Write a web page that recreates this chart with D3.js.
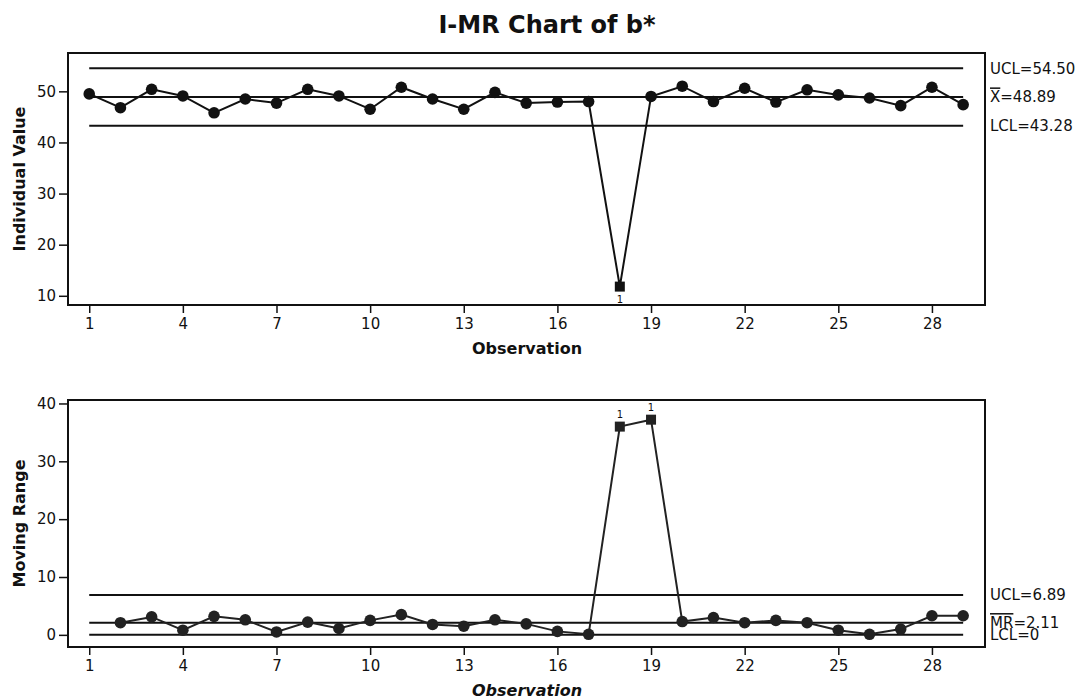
<!DOCTYPE html>
<html>
<head>
<meta charset="utf-8">
<script src="https://cdn.jsdelivr.net/npm/d3@7"></script>
<style>
  body { margin: 0; background: #fff; }
  text { font-family: "DejaVu Sans", Verdana, sans-serif; fill: #111; }
</style>
</head>
<body>
<svg id="chart" width="1092" height="700"></svg>
<script>
// observation numbers
var observations = [1, 2, 3, 4, 5, 6, 7, 8, 9, 10, 11, 12, 13, 14, 15, 16, 17, 18, 19, 20, 21, 22, 23, 24, 25, 26, 27, 28, 29];

// individual values of b*
var individual = [49.5, 46.8, 50.4, 49.1, 45.8, 48.5, 47.7, 50.4, 49.1, 46.5, 50.8, 48.5, 46.5, 49.8, 47.7, 47.9,
  48.0, 11.8, 49.0, 51.0, 48.0, 50.6, 47.9, 50.3, 49.3, 48.7, 47.2, 50.8, 47.4];

// moving ranges (first observation has none)
var movingRange = [null, 2.1, 3.1, 0.8, 3.2, 2.6, 0.5, 2.2, 1.1, 2.5, 3.5, 1.8, 1.5, 2.6, 1.9, 0.6,
  0.1, 36.0, 37.2, 2.3, 3.0, 2.1, 2.5, 2.1, 0.8, 0.1, 1.0, 3.3, 3.3];

// points that failed test 1
var individualFlagged = [18];
var movingRangeFlagged = [18, 19];

// control limits
var individualLimits = [54.50, 48.89, 43.28];
var individualLimitLabels = ["UCL=54.50", "X=48.89", "LCL=43.28"];
var movingRangeLimits = [6.89, 2.11, 0];
var movingRangeLimitLabels = ["UCL=6.89", "MR=2.11", "LCL=0"];

// tick labels
var xTicks = [1, 4, 7, 10, 13, 16, 19, 22, 25, 28];
var individualTicks = [10, 20, 30, 40, 50];
var movingRangeTicks = [0, 10, 20, 30, 40];

var svg = d3.select("#chart");

svg.append("text")
  .attr("x", 547)
  .attr("y", 33)
  .attr("text-anchor", "middle")
  .style("font-size", "24px")
  .style("font-weight", "bold")
  .text("I-MR Chart of b*");

var left = 68, right = 985;

var x = d3.scaleLinear().domain([0.32, 29.7]).range([left, right]);

function drawPanel(p) {
  var y = d3.scaleLinear().domain(p.domain).range([p.bottom, p.top]);
  var g = svg.append("g");

  // x axis
  var xa = g.append("g")
    .attr("transform", "translate(0," + p.bottom + ")")
    .call(d3.axisBottom(x).tickValues(xTicks).tickSize(8).tickSizeOuter(0).tickPadding(5));
  xa.select(".domain").remove();
  xa.selectAll("line").attr("stroke", "#111").attr("stroke-width", 1.5);
  xa.selectAll("text").style("font-size", "15px").style("font-family", "DejaVu Sans").attr("fill", "#111");

  // y axis
  var ya = g.append("g")
    .attr("transform", "translate(" + left + ",0)")
    .call(d3.axisLeft(y).tickValues(p.ticks).tickSize(9).tickSizeOuter(0).tickPadding(3));
  ya.select(".domain").remove();
  ya.selectAll("line").attr("stroke", "#111").attr("stroke-width", 1.5);
  ya.selectAll("text").style("font-size", "15px").style("font-family", "DejaVu Sans").attr("fill", "#111");

  // frame
  g.append("rect")
    .attr("x", left).attr("y", p.top)
    .attr("width", right - left).attr("height", p.bottom - p.top)
    .attr("fill", "none").attr("stroke", "#111").attr("stroke-width", 2);

  // axis titles
  g.append("text")
    .attr("x", 527).attr("y", p.bottom + 49)
    .attr("text-anchor", "middle")
    .style("font-size", "16px").style("font-weight", "bold")
    .style("font-style", p.italic ? "italic" : "normal")
    .text("Observation");

  g.append("text")
    .attr("transform", "translate(25," + ((p.top + p.bottom) / 2) + ") rotate(-90)")
    .attr("text-anchor", "middle")
    .style("font-size", "16px").style("font-weight", "bold")
    .text(p.yTitle);

  // control lines
  g.selectAll(".limit")
    .data(p.limits)
    .enter().append("line")
    .attr("x1", x(1)).attr("x2", x(29))
    .attr("y1", function(d) { return y(d); })
    .attr("y2", function(d) { return y(d); })
    .attr("stroke", "#111").attr("stroke-width", 2);

  var labels = g.selectAll(".lbl")
    .data(p.limits)
    .enter().append("text")
    .attr("x", right + 5)
    .attr("y", function(d) { return y(d); })
    .attr("dy", "0.36em")
    .style("font-size", "15px");
  labels.each(function(d, i) {
    var t = d3.select(this);
    var s = p.labels[i];
    if (i === 1) {
      var eq = s.indexOf("=");
      t.append("tspan").style("text-decoration", "overline").text(s.slice(0, eq));
      t.append("tspan").text(s.slice(eq));
    } else {
      t.text(s);
    }
  });

  // data
  var pts = observations.map(function(o, i) { return { obs: o, v: p.values[i] }; })
    .filter(function(d) { return d.v !== null; });

  var line = d3.line().x(function(d) { return x(d.obs); }).y(function(d) { return y(d.v); });
  g.append("path").datum(pts)
    .attr("d", line)
    .attr("fill", "none").attr("stroke", p.color).attr("stroke-width", 2);

  var normal = pts.filter(function(d) { return p.flagged.indexOf(d.obs) < 0; });
  var flagged = pts.filter(function(d) { return p.flagged.indexOf(d.obs) >= 0; });

  g.selectAll(".dot").data(normal).enter().append("circle")
    .attr("cx", function(d) { return x(d.obs); })
    .attr("cy", function(d) { return y(d.v); })
    .attr("r", 5.8)
    .attr("fill", p.color);

  g.selectAll(".sq").data(flagged).enter().append("rect")
    .attr("x", function(d) { return x(d.obs) - 5; })
    .attr("y", function(d) { return y(d.v) - 5; })
    .attr("width", 10).attr("height", 10)
    .attr("fill", p.color);

  g.selectAll(".flag").data(flagged).enter().append("text")
    .attr("x", function(d) { return x(d.obs); })
    .attr("y", function(d) { return p.flagBelow ? y(d.v) + 16 : y(d.v) - 9; })
    .attr("text-anchor", "middle")
    .style("font-size", "10px")
    .text("1");
}

drawPanel({
  top: 53, bottom: 305, domain: [8.2, 57.5],
  ticks: individualTicks, yTitle: "Individual Value",
  values: individual, flagged: individualFlagged,
  limits: individualLimits, labels: individualLimitLabels,
  color: "#111", flagBelow: true, italic: false
});

drawPanel({
  top: 400, bottom: 647, domain: [-2.1, 40.6],
  ticks: movingRangeTicks, yTitle: "Moving Range",
  values: movingRange, flagged: movingRangeFlagged,
  limits: movingRangeLimits, labels: movingRangeLimitLabels,
  color: "#222", flagBelow: false, italic: true
});
</script>
</body>
</html>
